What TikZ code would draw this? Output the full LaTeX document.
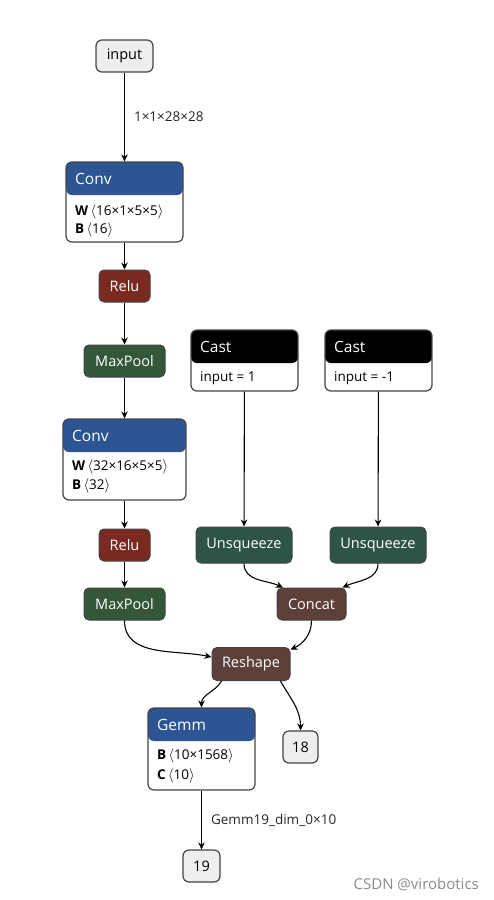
\documentclass[tikz,border=0pt]{standalone}
\usepackage{fontspec}
\setmainfont{Open Sans}
\usetikzlibrary{arrows.meta}
\definecolor{convblue}{HTML}{2D5593}
\definecolor{relured}{HTML}{7B2A21}
\definecolor{poolgreen}{HTML}{34573A}
\definecolor{unsqgreen}{HTML}{2E5446}
\definecolor{brownnode}{HTML}{5C4039}
\definecolor{lightfill}{HTML}{EEEEEE}
\definecolor{edgegray}{HTML}{444444}
\newcommand{\lab}{\,$\langle$}
\newcommand{\rab}{$\rangle$}
\begin{document}
\begin{tikzpicture}[x=1pt,y=-1pt,
  arr/.style={draw=black, line width=1.1pt, -{Stealth[length=7pt,width=6.5pt]}},
  opnode/.style={draw=edgegray, line width=1pt, rounded corners=5pt, fill=#1, text=white, font=\fontsize{14.5}{16}\selectfont, inner sep=0pt},
  iobox/.style={draw=edgegray, line width=1.2pt, rounded corners=6pt, fill=lightfill, text=black, font=\fontsize{14.5}{16}\selectfont, inner sep=0pt},
  hbox/.style={draw=edgegray, line width=1.2pt, rounded corners=6pt, fill=white, inner sep=0pt,
    path picture={\fill[#1] (path picture bounding box.north west) rectangle ([yshift=-33pt]path picture bounding box.north east);}},
  title/.style={anchor=west, text=white, font=\fontsize{15.5}{17}\selectfont, inner sep=0pt},
  body/.style={anchor=west, text=black, font=\fontsize{13.5}{15}\selectfont, inner sep=0pt},
  elabel/.style={text=black!85, font=\fontsize{13.5}{15}\selectfont, inner sep=0pt}
]
\useasboundingbox (0,0) rectangle (494,900);
\fill[white] (0,0) rectangle (494,900);

% simple nodes
\node[iobox, minimum width=57pt, minimum height=32pt] (input) at (124.5,56) {input};
\node[opnode=relured, minimum width=51pt, minimum height=32pt] (relu1) at (124.5,286) {Relu};
\node[opnode=poolgreen, minimum width=81pt, minimum height=32pt] (mp1) at (124.5,361) {MaxPool};
\node[opnode=relured, minimum width=51pt, minimum height=32pt] (relu2) at (124.5,545) {Relu};
\node[opnode=poolgreen, minimum width=81pt, minimum height=32pt] (mp2) at (124.5,604) {MaxPool};
\node[opnode=unsqgreen, minimum width=96pt, minimum height=36pt] (unsq1) at (244,545) {Unsqueeze};
\node[opnode=unsqgreen, minimum width=96pt, minimum height=36pt] (unsq2) at (378,545) {Unsqueeze};
\node[opnode=brownnode, minimum width=69pt, minimum height=32pt] (concat) at (311.5,604) {Concat};
\node[opnode=brownnode, minimum width=78pt, minimum height=33pt] (reshape) at (251,664) {Reshape};
\node[iobox, minimum width=35pt, minimum height=32pt] (n18) at (300.5,747) {18};
\node[iobox, minimum width=37pt, minimum height=32pt] (n19) at (201.5,866) {19};

% header boxes
\node[hbox=convblue, minimum width=117pt, minimum height=80pt] (conv1) at (124.5,202) {};
\node[title] (conv1t) at (75,179) {Conv};
\node[body] (conv1w) at (75,212) {\textbf{W}\lab16×1×5×5\rab};
\node[body] (conv1b) at (75,230) {\textbf{B}\lab16\rab};

\node[hbox=convblue, minimum width=123pt, minimum height=81pt] (conv2) at (124.5,459.5) {};
\node[title] (conv2t) at (72,436) {Conv};
\node[body] (conv2w) at (72,467) {\textbf{W}\lab32×16×5×5\rab};
\node[body] (conv2b) at (72,486) {\textbf{B}\lab32\rab};

\node[hbox=black, minimum width=107pt, minimum height=61pt] (cast1) at (244.5,360.5) {};
\node[title] (cast1t) at (200,347) {Cast};
\node[body] (cast1v) at (200,378) {input = 1};

\node[hbox=black, minimum width=107pt, minimum height=61pt] (cast2) at (378.5,360.5) {};
\node[title] (cast2t) at (334,347) {Cast};
\node[body] (cast2v) at (334,378) {input = -1};

\node[hbox=convblue, minimum width=107pt, minimum height=82pt] (gemm) at (201.5,749) {};
\node[title] (gemmt) at (157,725) {Gemm};
\node[body] (gemmb) at (157,756) {\textbf{B}\lab10×1568\rab};
\node[body] (gemmc) at (157,776) {\textbf{C}\lab10\rab};

% edges
\draw[arr] (input) -- node[elabel, anchor=west, xshift=9pt] (l1) {1×1×28×28} (conv1);
\draw[arr] (conv1) -- (relu1);
\draw[arr] (relu1) -- (mp1);
\draw[arr] (mp1) -- (conv2);
\draw[arr] (conv2) -- (relu2);
\draw[arr] (relu2) -- (mp2);
\draw[arr] (cast1) -- (unsq1);
\draw[arr] (cast2) -- (unsq2);
\draw[arr] (mp2.south) to[out=-90, in=168] (reshape.170);
\draw[arr] (unsq1.south) to[out=-90, in=155] (concat.150);
\draw[arr] (unsq2.south) to[out=-90, in=25] (concat.28);
\draw[arr] (concat.south) to[out=-90, in=25] (reshape.20);
\draw[arr] (reshape.210) to[out=-120, in=90] (gemm.north);
\draw[arr] (reshape.330) to[out=-60, in=90] (n18.north);
\draw[arr] (gemm) -- node[elabel, anchor=west, xshift=9pt] (l2) {Gemm19\_dim\_0×10} (n19);

% watermark
\node[text=black!45, font=\fontsize{15}{17}\selectfont, anchor=east, inner sep=0pt] (wm) at (479,884) {CSDN @virobotics};
\end{tikzpicture}
\end{document}
